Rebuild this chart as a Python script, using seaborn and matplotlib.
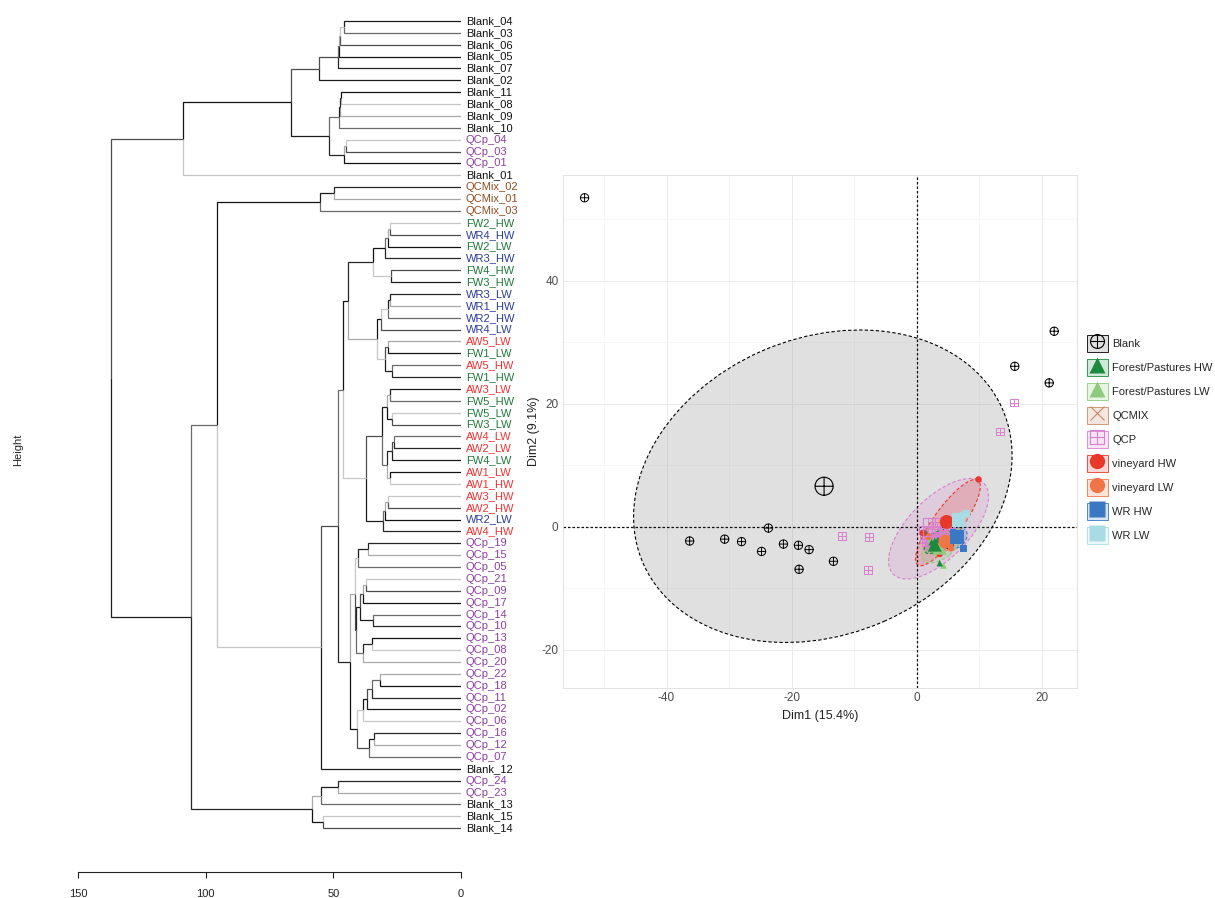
import numpy as np
import pandas as pd
import matplotlib
matplotlib.use("Agg")
import matplotlib.pyplot as plt
import seaborn as sns
from matplotlib.patches import Ellipse, Patch
from matplotlib.lines import Line2D
from matplotlib.path import Path
from matplotlib.colors import to_rgba
from matplotlib.legend_handler import HandlerTuple

# ------------------------------------------------------------------
# Dendrogram data: merges (child = leaf name or index of earlier merge)
# ------------------------------------------------------------------
merge_left = ["Blank_04", 0, 1, 2, 3, "Blank_11", 5, 6, "QCp_04", 8, 7, 4, 11,
              "QCMix_02", 13,
              "FW2_HW", 15, 16, "FW4_HW", 17, "WR3_LW", 20, 21, "AW5_LW", "AW5_HW", 23, 22, 19,
              "AW3_LW", "FW5_LW", 28, "AW4_LW", 31, "AW1_LW", 32, 30, "AW3_HW", 36, 37, 35, 27,
              "QCp_19", 41, "QCp_21", 43, "QCp_14", 44, "QCp_13", 47, 46, 42,
              "QCp_22", 51, 52, 53, "QCp_16", 55, 54, 50, 40, 59, 14,
              "QCp_24", 62, "Blank_15", 63, 61, 12]
merge_right = ["Blank_03", "Blank_06", "Blank_05", "Blank_07", "Blank_02", "Blank_08", "Blank_09",
               "Blank_10", "QCp_03", "QCp_01", 9, 10, "Blank_01",
               "QCMix_01", "QCMix_03",
               "WR4_HW", "FW2_LW", "WR3_HW", "FW3_HW", 18, "WR1_HW", "WR2_HW", "WR4_LW", "FW1_LW",
               "FW1_HW", 24, 25, 26,
               "FW5_HW", "FW3_LW", 29, "AW2_LW", "FW4_LW", "AW1_HW", 33, 34, "AW2_HW", "WR2_LW",
               "AW4_HW", 38, 39,
               "QCp_15", "QCp_05", "QCp_09", "QCp_17", "QCp_10", 45, "QCp_08", "QCp_20", 48, 49,
               "QCp_18", "QCp_11", "QCp_02", "QCp_06", "QCp_12", "QCp_07", 56, 57, 58, "Blank_12", 60,
               "QCp_23", "Blank_13", "Blank_14", 64, 65, 66]
merge_height = [45.8, 47.4, 47.8, 48.3, 55.5, 47.0, 47.4, 47.9, 45.0, 45.9, 51.7, 66.7, 108.9,
                49.6, 55.2,
                27.8, 28.5, 29.8, 27.5, 34.3, 27.8, 28.6, 31.5, 28.4, 26.9, 29.8, 33.0, 44.4,
                27.8, 27.1, 29.1, 26.1, 27.1, 27.8, 29.1, 30.9, 28.5, 29.8, 30.4, 37.2, 46.3,
                36.3, 40.2, 37.2, 38.3, 34.3, 39.6, 35.0, 38.3, 41.1, 41.5,
                31.7, 35.0, 37.0, 38.5, 33.9, 35.9, 40.7, 43.5, 48.3, 54.8, 95.4,
                48.0, 55.0, 54.2, 58.5, 105.9, 137.0]
height_ticks = [150, 100, 50, 0]

# ------------------------------------------------------------------
# PCA data (Dim1, Dim2) per group
# ------------------------------------------------------------------
blank_x = [-53.1, 22.0, 15.7, 21.2, -23.7, -36.3, -30.7, -28.0, -24.8, -21.3, -18.9, -17.2, -13.3, -18.8, 5.2]
blank_y = [53.5, 31.8, 26.1, 23.4, -0.2, -2.3, -2.0, -2.4, -4.0, -2.8, -3.0, -3.7, -5.6, -6.9, -2.9]
qcmix_x = [13.2, 2.5, -12.9]
qcmix_y = [-3.2, -20.3, -22.6]
qcp_x = [15.6, 13.3, -11.9, -7.6, -7.8, 1.0, 2.2, 3.5, 4.8, 2.0, 3.0, 5.5, 1.5, 4.0, 3.2, 2.6,
         4.4, 3.8, 1.8, 5.0, 2.4, 3.6, 2.9, 1.2]
qcp_y = [20.2, 15.5, -1.5, -1.7, -7.0, -0.5, -2.0, -1.0, 0.5, -3.0, -1.5, -0.2, -2.5, -2.2, 0.2,
         -1.8, -0.8, -3.2, -1.0, -1.2, 0.8, -2.6, -1.4, -2.0]
forest_hw_x = [3.7, 1.5, 2.4, 3.5, 3.4]
forest_hw_y = [-5.9, -1.0, -2.5, -3.0, -2.1]
forest_lw_x = [4.3, 2.2, 3.5, 4.6, 3.9]
forest_lw_y = [-6.3, -2.0, -3.5, -2.8, -2.4]
vine_hw_x = [9.9, 1.0, 3.7, 4.5, 4.9]
vine_hw_y = [7.7, -1.0, -4.4, 0.5, 1.2]
vine_lw_x = [1.9, 5.5, 6.0, 4.2, 5.4]
vine_lw_y = [-1.6, -3.5, -1.0, -3.0, -2.9]
wr_hw_x = [7.5, 5.8, 6.0, 6.3]
wr_hw_y = [-3.5, -0.8, -1.5, -1.0]
wr_lw_x = [8.0, 6.0, 6.5, 6.3]
wr_lw_y = [2.2, 0.5, 1.0, 0.7]

groups = ["Blank", "Forest/Pastures HW", "Forest/Pastures LW", "QCMIX", "QCP",
          "vineyard HW", "vineyard LW", "WR HW", "WR LW"]
x_ticks = [-40, -20, 0, 20]
y_ticks = [-20, 0, 20, 40]

# concentration ellipses
ell_group = ["Blank", "QCP", "vineyard HW", "Forest/Pastures LW", "Forest/Pastures HW",
             "vineyard LW", "WR HW", "WR LW"]
ell_cx = [-15.0, 3.5, 5.0, 4.0, 3.2, 4.6, 6.3, 6.9]
ell_cy = [6.6, -0.3, 0.7, -3.0, -2.4, -2.2, -1.8, 0.8]
ell_w = [62.7, 20.7, 16.8, 7.5, 5.0, 5.0, 4.0, 4.0]
ell_h = [48.1, 9.7, 4.7, 4.0, 2.5, 3.0, 3.0, 2.5]
ell_angle = [24, 46, 55, 40, 45, 40, 45, 45]

# ------------------------------------------------------------------
# Styling
# ------------------------------------------------------------------
sns.set_theme(style="white")
plt.rcParams["font.family"] = ["Liberation Sans", "DejaVu Sans"]
plt.rcParams["axes.unicode_minus"] = False

W, H = 1215, 898
fig = plt.figure(figsize=(W / 100, H / 100), dpi=100)

label_colors = {"Blank": "#111111", "QCp": "#8b3fa2", "QCMix": "#8e4d1f",
                "FW": "#1f7a3a", "WR": "#2b3d9e", "AW": "#f23232"}
edge_shades = ["#1c1c1c", "#a9a9a9", "#4d4d4d", "#262626", "#c6c6c6", "#6a6a6a", "#111111"]

# ---------------- dendrogram ----------------
top_px, bot_px, leaf0_px, step_px = 15, 872, 21, 11.87
ax1 = fig.add_axes([78 / W, 1 - bot_px / H, 383 / W, (bot_px - top_px) / H])
n_m = len(merge_height)
order = []


def collect(node):
    if isinstance(node, str):
        order.append(node)
    else:
        collect(merge_left[node])
        collect(merge_right[node])


collect(n_m - 1)
leaf_y = {name: i + 1 for i, name in enumerate(order)}
node_y = {}


def get_y(node):
    if isinstance(node, str):
        return leaf_y[node]
    if node not in node_y:
        node_y[node] = (get_y(merge_left[node]) + get_y(merge_right[node])) / 2
    return node_y[node]


def get_h(node):
    return 0.0 if isinstance(node, str) else merge_height[node]


cnt = 0
for k in range(n_m):
    hk, yk = merge_height[k], get_y(k)
    for child in (merge_left[k], merge_right[k]):
        c = edge_shades[(cnt * 5 + k) % len(edge_shades)]
        cnt += 1
        ax1.plot([hk, hk, get_h(child)], [yk, get_y(child), get_y(child)],
                 color=c, lw=0.9, solid_capstyle="butt", solid_joinstyle="miter")

for name, yv in leaf_y.items():
    pre = name.split("_")[0]
    col = label_colors.get(pre, label_colors.get(pre[:2], "#111111"))
    ax1.annotate(name, (0, yv), xytext=(3.5, 0), textcoords="offset points",
                 va="center", ha="left", fontsize=8, color=col, annotation_clip=False)

ax1.set_xlim(150, 0)
ax1.set_ylim(1 + (bot_px - leaf0_px) / step_px, 1 + (top_px - leaf0_px) / step_px)
for s in ["top", "right", "left"]:
    ax1.spines[s].set_visible(False)
ax1.spines["bottom"].set_color("#222222")
ax1.spines["bottom"].set_linewidth(0.8)
ax1.set_xticks(height_ticks)
ax1.set_xticklabels([str(t) for t in height_ticks], fontsize=8)
ax1.tick_params(axis="x", direction="out", length=4, width=0.8, pad=8, colors="#222222",
                bottom=True)
ax1.set_yticks([])
ax1.set_facecolor("none")
fig.text(18 / W, 1 - 450 / H, "Height", rotation=90, va="center", ha="center", fontsize=8)

# ---------------- PCA ----------------
palette = {"Blank": "#000000", "Forest/Pastures HW": "#1b8a3d", "Forest/Pastures LW": "#8fcb7c",
           "QCMIX": "#c98a62", "QCP": "#d87fcf", "vineyard HW": "#e8382a",
           "vineyard LW": "#ef7547", "WR HW": "#3a78c3", "WR LW": "#a8dce4"}
fill_cols = {"Blank": to_rgba("#808080", 0.24)}
for g in groups:
    if g not in fill_cols:
        fill_cols[g] = to_rgba(palette[g], 0.2)

circle_plus = Path.make_compound_path(Path.unit_circle(), Path([(-1, 0), (1, 0)]),
                                      Path([(0, -1), (0, 1)]))
square_plus = Path.make_compound_path(Path([(-1, -1), (1, -1), (1, 1), (-1, 1), (-1, -1)]),
                                      Path([(-1, 0), (1, 0)]), Path([(0, -1), (0, 1)]))
markers = {"Blank": circle_plus, "Forest/Pastures HW": "^", "Forest/Pastures LW": "^",
           "QCMIX": "x", "QCP": square_plus, "vineyard HW": "o", "vineyard LW": "o",
           "WR HW": "s", "WR LW": "s"}
hollow = {"Blank", "QCMIX", "QCP"}

series = {"Blank": (blank_x, blank_y), "Forest/Pastures HW": (forest_hw_x, forest_hw_y),
          "Forest/Pastures LW": (forest_lw_x, forest_lw_y), "QCMIX": (qcmix_x, qcmix_y),
          "QCP": (qcp_x, qcp_y), "vineyard HW": (vine_hw_x, vine_hw_y),
          "vineyard LW": (vine_lw_x, vine_lw_y), "WR HW": (wr_hw_x, wr_hw_y),
          "WR LW": (wr_lw_x, wr_lw_y)}
df = pd.concat([pd.DataFrame({"Dim1": xs, "Dim2": ys, "group": g})
                for g, (xs, ys) in series.items()], ignore_index=True)
means = df.groupby("group")[["Dim1", "Dim2"]].mean()

px_l, px_r, px_t, px_b = 562.7, 1076.7, 175, 688
ax2 = fig.add_axes([px_l / W, 1 - px_b / H, (px_r - px_l) / W, (px_b - px_t) / H])
ax2.set_xlim(-56.6, 25.6)
ax2.set_ylim(-26.2, 57.2)

for g, cx, cy, w, h, a in zip(ell_group, ell_cx, ell_cy, ell_w, ell_h, ell_angle):
    ax2.add_patch(Ellipse((cx, cy), w, h, angle=a, facecolor=fill_cols[g],
                          edgecolor=palette[g], ls=(0, (3, 2)), lw=0.8, zorder=1))

ax2.axhline(0, color="#111111", ls=(0, (2, 1.6)), lw=0.9, zorder=2)
ax2.axvline(0, color="#111111", ls=(0, (2, 1.6)), lw=0.9, zorder=2)

draw_order = ["Blank", "QCP", "QCMIX", "Forest/Pastures LW", "Forest/Pastures HW",
              "vineyard LW", "vineyard HW", "WR LW", "WR HW"]
small_size = {"Blank": 36, "QCP": 30, "QCMIX": 30}
for i, g in enumerate(draw_order):
    sub = df[df["group"] == g]
    if g in hollow:
        sns.scatterplot(data=sub, x="Dim1", y="Dim2", marker=markers[g], s=small_size[g],
                        facecolor="none", edgecolor=palette[g], linewidth=0.7,
                        ax=ax2, legend=False, zorder=3 + i * 0.01)
    else:
        sns.scatterplot(data=sub, x="Dim1", y="Dim2", marker=markers[g], s=22,
                        color=palette[g], edgecolor="none", linewidth=0,
                        ax=ax2, legend=False, zorder=3 + i * 0.01)

for i, g in enumerate(draw_order):
    m = means.loc[[g]].reset_index()
    if g in hollow:
        sns.scatterplot(data=m, x="Dim1", y="Dim2", marker=markers[g], s=170,
                        facecolor="none", edgecolor=palette[g], linewidth=0.8,
                        ax=ax2, legend=False, zorder=4 + i * 0.01)
    else:
        sns.scatterplot(data=m, x="Dim1", y="Dim2", marker=markers[g], s=100,
                        color=palette[g], edgecolor="none", linewidth=0,
                        ax=ax2, legend=False, zorder=4 + i * 0.01)

ax2.set_xticks(x_ticks)
ax2.set_yticks(y_ticks)
ax2.set_xticks(np.arange(-50, 30, 20), minor=True)
ax2.set_yticks(np.arange(-10, 60, 20), minor=True)
ax2.grid(True, which="major", color="#ebebeb", lw=0.7)
ax2.grid(True, which="minor", color="#f4f4f4", lw=0.5)
ax2.set_axisbelow(True)
ax2.tick_params(axis="both", which="both", length=0, labelsize=8.5, labelcolor="#4d4d4d", pad=3)
for s in ax2.spines.values():
    s.set_color("#dddddd")
    s.set_linewidth(0.6)
ax2.set_xlabel("Dim1 (15.4%)", fontsize=9, color="#222222")
ax2.set_ylabel("Dim2 (9.1%)", fontsize=9, color="#222222")
ax2.xaxis.set_label_coords(0.5, (688 - 710) / 513)
ax2.yaxis.set_label_coords((540 - 562.7) / 514, 0.5)

handles = []
for g in groups:
    p = Patch(facecolor=fill_cols[g], edgecolor=palette[g], lw=0.6)
    if g in hollow:
        mk = Line2D([], [], ls="none", marker=markers[g], ms=10, mfc="none",
                    mec=palette[g], mew=0.8)
    else:
        mk = Line2D([], [], ls="none", marker=markers[g], ms=11, mfc=palette[g],
                    mec="none")
    handles.append((p, mk))
ax2.legend(handles, groups, loc="upper left", bbox_to_anchor=(1081 / W, 1 - 329 / H),
           bbox_transform=fig.transFigure, frameon=False,
           handler_map={tuple: HandlerTuple(ndivide=1, pad=0)},
           handlelength=1.9, handleheight=2.1, labelspacing=0.55, borderpad=0,
           handletextpad=0.4, fontsize=8)

fig.savefig("out.png", dpi=100, facecolor="white")
